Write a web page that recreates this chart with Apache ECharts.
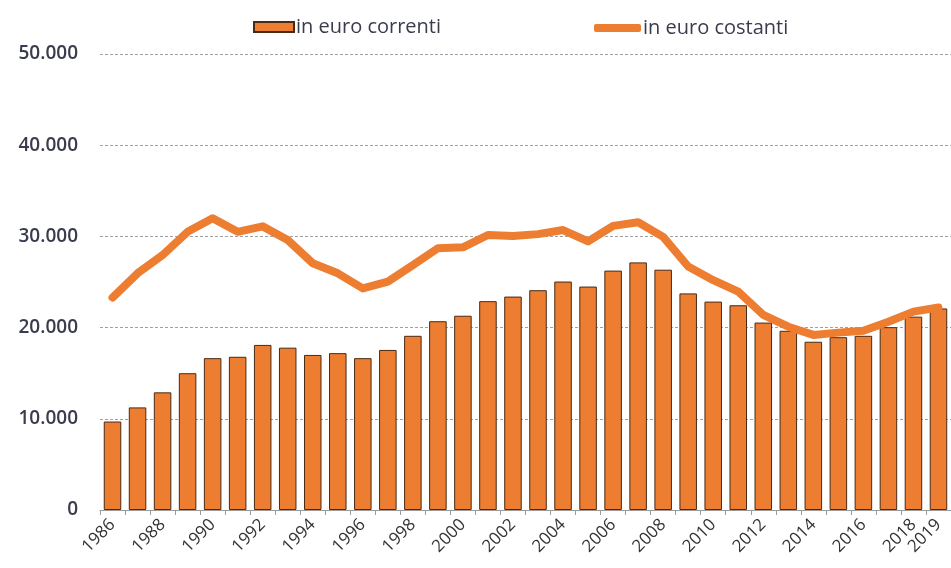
<!DOCTYPE html>
<html>
<head>
<meta charset="utf-8">
<script src="https://cdn.jsdelivr.net/npm/echarts@6/dist/echarts.min.js"></script>
<style>
  html, body { margin: 0; padding: 0; background: #fff; }
  #chart { width: 951px; height: 568px; }
</style>
</head>
<body>
<div id="chart"></div>
<script>
// Anni
const years = ['1986','1987','1988','1989','1990','1991','1992','1993','1994','1995',
  '1996','1997','1998','1999','2000','2001','2002','2003','2004','2005',
  '2006','2007','2008','2009','2010','2011','2012','2013','2014','2015',
  '2016','2017','2018','2019'];

// Valori in euro correnti (barre)
const correnti = [9700, 11250, 12900, 15000, 16650, 16800, 18100, 17800, 17000, 17200,
  16650, 17550, 19100, 20700, 21300, 22900, 23400, 24100, 25050, 24500,
  26250, 27150, 26350, 23750, 22850, 22450, 20550, 19650, 18450, 18950,
  19100, 20050, 21200, 22100];

// Valori in euro costanti (linea)
const costanti = [23300, 25950, 27950, 30500, 32000, 30500, 31100, 29600, 27050, 25950,
  24300, 25050, 26850, 28700, 28800, 30150, 30050, 30250, 30700, 29450,
  31150, 31550, 29950, 26700, 25200, 23950, 21400, 20100, 19200, 19450,
  19650, 20650, 21750, 22200];

// Etichette asse verticale
const yTicks = [0, 10000, 20000, 30000, 40000, 50000];

const fmt = v => v === 0 ? '0' : String(v).replace(/\B(?=(\d{3})+(?!\d))/g, '.');

const chart = echarts.init(document.getElementById('chart'), null, { renderer: 'canvas' });
const orange = '#ED7D31';
const textColor = '#3a3c4e';
const legendText = { fontSize: 20, color: textColor, fontFamily: 'Open Sans', padding: [0, 0, 0, -3] };

chart.setOption({
  animation: false,
  backgroundColor: '#ffffff',
  textStyle: { fontFamily: 'Open Sans' },
  legend: [
    {
      top: 12,
      left: 248,
      itemWidth: 40,
      itemHeight: 10,
      textStyle: legendText,
      data: [{ name: 'in euro correnti', icon: 'rect' }]
    },
    {
      top: 13,
      left: 589,
      itemWidth: 47,
      itemHeight: 8,
      textStyle: legendText,
      data: [{ name: 'in euro costanti', icon: 'roundRect', itemStyle: { color: orange, borderWidth: 0 } }]
    }
  ],
  grid: {
    left: 100,
    top: 54,
    width: 853,
    height: 456,
    containLabel: false
  },
  xAxis: {
    type: 'category',
    data: years,
    boundaryGap: true,
    axisLine: { lineStyle: { color: '#9a9a9a', width: 1 } },
    axisTick: { show: true, interval: 0, length: 5, lineStyle: { color: '#9a9a9a' } },
    axisLabel: {
      rotate: 45,
      interval: (i) => i % 2 === 0 || i === years.length - 1,
      fontSize: 17,
      color: '#333333',
      margin: 12,
      fontFamily: 'Open Sans'
    }
  },
  yAxis: {
    type: 'value',
    min: yTicks[0],
    max: yTicks[yTicks.length - 1],
    interval: 10000,
    axisLine: { show: false },
    axisTick: { show: false },
    axisLabel: {
      formatter: fmt,
      fontSize: 19,
      fontWeight: 600,
      color: textColor,
      margin: 22,
      fontFamily: 'Open Sans'
    },
    splitLine: {
      show: true,
      lineStyle: { color: '#a0a0a0', type: [3, 2], width: 1 }
    }
  },
  series: [
    {
      name: 'in euro correnti',
      type: 'bar',
      data: correnti,
      barCategoryGap: '30%',
      itemStyle: { color: orange, borderColor: '#4a2a12', borderWidth: 1 }
    },
    {
      name: 'in euro costanti',
      type: 'line',
      data: costanti,
      symbol: 'none',
      lineStyle: { color: orange, width: 8, cap: 'round', join: 'round' },
      itemStyle: { color: orange }
    }
  ]
});
</script>
</body>
</html>
